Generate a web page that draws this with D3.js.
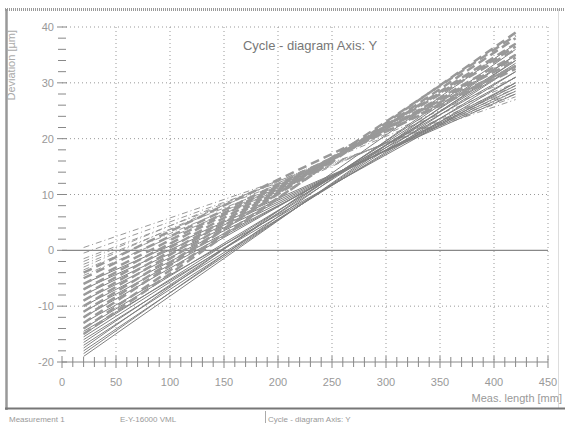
<!DOCTYPE html>
<html><head><meta charset="utf-8">
<script src="https://cdn.jsdelivr.net/npm/d3@7"></script>
<style>body{margin:0;background:#fff}svg{display:block}text{font-family:"Liberation Sans",Arial,sans-serif}</style>
</head><body>
<script>
// Data
const xTicks = [0,50,100,150,200,250,300,350,400,450];
const yTicks = [-20,-10,0,10,20,30,40];
const xStart = 20, xEnd = 420;
// solid thin lines: value at xStart and at xEnd
const solidStart = [-19,-18.5,-18,-17.5,-17,-16.5,-16,-15.5,-15,-14.5,-14,-13,-12,-11,-10,-9,-8,-7,-6];
const solidEnd   = [35,36,34,37,33,35,32,33.5,34,31,33,30,32,31,30,29.5,29,28.5,28];
// thick dashed lines
const dashStart = [-15,-14,-13,-12,-11,-10,-9,-8,-7,-6,-5,-4];
const dashEnd   = [39,38,38.5,37,36.5,36,35,34.5,34,33,32.5,33];
// thin dash-dot lines
const dotStart = [0.5,-0.5,-1.5,-2.5,-3.5,-4.5,-2,-3];
const dotEnd   = [27,27.5,28,28.5,29,29.5,30,31];

const W=565,H=425;
const svg=d3.select("body").append("svg").attr("width",W).attr("height",H);
const x=d3.scaleLinear().domain([0,450]).range([62,548]);
const y=d3.scaleLinear().domain([-20,40]).range([362,27]);

// frame
svg.append("line").attr("x1",5).attr("x2",565).attr("y1",9.5).attr("y2",9.5).attr("stroke","#999").attr("stroke-width",3).attr("stroke-dasharray","1,1");
svg.append("line").attr("x1",6.5).attr("x2",6.5).attr("y1",9).attr("y2",410).attr("stroke","#999").attr("stroke-width",2.5);
svg.append("line").attr("x1",558.5).attr("x2",558.5).attr("y1",9).attr("y2",408).attr("stroke","#ddd").attr("stroke-width",1);
svg.append("line").attr("x1",5).attr("x2",565).attr("y1",408.5).attr("y2",408.5).attr("stroke","#777").attr("stroke-width",2);
svg.append("line").attr("x1",265.5).attr("x2",265.5).attr("y1",411).attr("y2",423).attr("stroke","#aaa");

// grid
const g=svg.append("g");
g.selectAll(".gx").data(xTicks.filter(d=>d>0)).join("line")
 .attr("x1",d=>x(d)).attr("x2",d=>x(d)).attr("y1",y(40)).attr("y2",y(-20))
 .attr("stroke","#999").attr("stroke-dasharray","1,3");
g.selectAll(".gy").data(yTicks.filter(d=>d!==0&&d!==-20)).join("line")
 .attr("x1",x(0)).attr("x2",x(450)).attr("y1",d=>y(d)).attr("y2",d=>y(d))
 .attr("stroke","#999").attr("stroke-dasharray","1,3");
// zero line
g.append("line").attr("x1",x(0)).attr("x2",x(450)).attr("y1",y(0)).attr("y2",y(0)).attr("stroke","#888").attr("stroke-width",1.2);

// x axis line + ticks
g.append("line").attr("x1",x(0)).attr("x2",x(450)).attr("y1",y(-20)).attr("y2",y(-20)).attr("stroke","#888");
g.selectAll(".xt").data(d3.range(0,451,10)).join("line")
 .attr("x1",d=>x(d)).attr("x2",d=>x(d)).attr("y1",d=>y(-20)-(d%50===0?6:5)).attr("y2",d=>y(-20)+(d%50===0?6:5))
 .attr("stroke","#888");
// y ticks
g.selectAll(".yt").data(d3.range(-20,41,2)).join("line")
 .attr("x1",d=>x(0)-(d%10===0?5:4)).attr("x2",d=>x(0)+(d%10===0?5:4)).attr("y1",d=>y(d)).attr("y2",d=>y(d))
 .attr("stroke","#888");

// labels
g.selectAll(".xl").data(xTicks).join("text").attr("x",d=>x(d)).attr("y",386)
 .attr("text-anchor","middle").attr("font-size",11).attr("fill","#999").text(d=>d);
g.selectAll(".yl").data(yTicks).join("text").attr("x",x(0)-8).attr("y",d=>y(d)+4)
 .attr("text-anchor","end").attr("font-size",11).attr("fill","#999").text(d=>d);

// series
const line=d3.line().x(d=>x(d[0])).y(d=>y(d[1]));
const mk=(s,e)=>s.map((v,i)=>[[xStart,v],[xEnd,e[i]]]);
svg.append("g").selectAll("path").data(mk(dotStart,dotEnd)).join("path").attr("d",line)
 .attr("fill","none").attr("stroke","#999").attr("stroke-width",1).attr("stroke-dasharray","6,3,1,3");
svg.append("g").selectAll("path").data(mk(solidStart,solidEnd)).join("path").attr("d",line)
 .attr("fill","none").attr("stroke","#808080").attr("stroke-width",1);
svg.append("g").selectAll("path").data(mk(dashStart,dashEnd)).join("path").attr("d",line)
 .attr("fill","none").attr("stroke","#999").attr("stroke-width",2.5).attr("stroke-dasharray","9,5");

// titles
svg.append("text").attr("x",310).attr("y",50).attr("text-anchor","middle").attr("font-size",13).attr("fill","#777").text("Cycle - diagram Axis: Y");
svg.append("text").attr("transform","translate(15,30) rotate(-90)").attr("text-anchor","end").attr("font-size",11).attr("fill","#aaa").text("Deviation [µm]");
svg.append("text").attr("x",562).attr("y",402).attr("text-anchor","end").attr("font-size",11).attr("fill","#999").text("Meas. length [mm]");
svg.append("text").attr("x",9).attr("y",422).attr("font-size",8).attr("fill","#999").text("Measurement 1");
svg.append("text").attr("x",120).attr("y",422).attr("font-size",8).attr("fill","#999").text("E-Y-16000 VML");
svg.append("text").attr("x",268).attr("y",422).attr("font-size",8).attr("fill","#999").text("Cycle - diagram Axis: Y");
</script>
</body></html>
